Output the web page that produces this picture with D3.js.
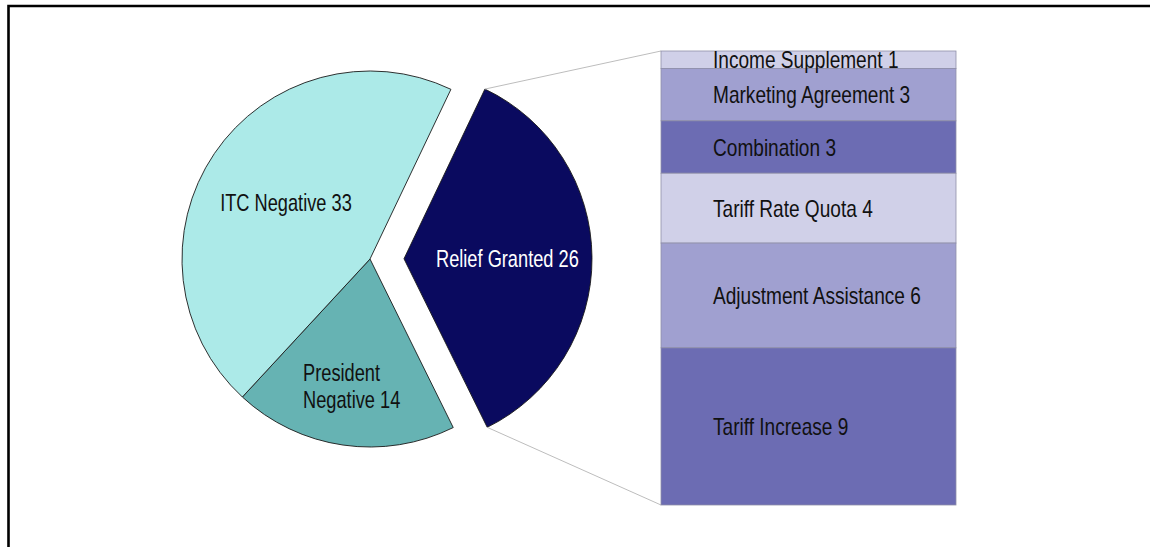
<!DOCTYPE html>
<html>
<head>
<meta charset="utf-8">
<script src="https://cdn.jsdelivr.net/npm/d3@7"></script>
<style>
  html, body { margin: 0; padding: 0; background: #fff; }
  svg { display: block; }
  text { font-family: "Liberation Sans", Arial, sans-serif; }
</style>
</head>
<body>
<svg id="chart" width="1150" height="547"></svg>
<script>
// ---- data ----
const pieCategories = ["Relief Granted", "President Negative", "ITC Negative"];
const pieValues = [26, 14, 33];
const pieLabelLines = [["Relief Granted 26"], ["President", "Negative 14"], ["ITC Negative 33"]];

const barCategories = ["Income Supplement", "Marketing Agreement", "Combination", "Tariff Rate Quota", "Adjustment Assistance", "Tariff Increase"];
const barValues = [1, 3, 3, 4, 6, 9];

// ---- styles ----
const pieColors = ["#0a0a5f", "#66b3b3", "#aceae8"];
const barColors = ["#d0d0e8", "#a0a0d0", "#6c6cb3", "#d0d0e8", "#a0a0d0", "#6c6cb3"];
const fontSize = 24;

const svg = d3.select("#chart");

// frame (top and left edges)
svg.append("path")
  .attr("d", "M8.5,560 L8.5,6 L1160,6")
  .attr("fill", "none").attr("stroke", "#000").attr("stroke-width", 2.6);

function condensedText(parent, x, y, anchor, color, lines, lh, sx) {
  const g = parent.append("g").attr("transform", `translate(${x},${y}) scale(${sx},1)`);
  const t = g.append("text").attr("font-size", fontSize).attr("fill", color).attr("text-anchor", anchor);
  lines.forEach((ln, j) => {
    t.append("tspan").attr("x", 0).attr("y", j * (lh || 0)).text(ln);
  });
  return t;
}

// ---- pie ----
const cx = 370, cy = 259, R = 188, explode = 34;
const deg = Math.PI / 180;
const pie = d3.pie().sort(null).value(d => d)
  .startAngle(25.5 * deg).endAngle(25.5 * deg + 2 * Math.PI);
const arcs = pie(pieValues);
const arc = d3.arc().innerRadius(0).outerRadius(R);

const labelR = [0.55, 0.68, 0.54];
const pieSx = 0.76;
const gPie = svg.append("g").attr("transform", `translate(${cx},${cy})`);

arcs.forEach((a, i) => {
  const mid = (a.startAngle + a.endAngle) / 2;
  const off = i === 0 ? explode : 0;
  const dx = off * Math.sin(mid), dy = -off * Math.cos(mid);
  const g = gPie.append("g").attr("transform", `translate(${dx},${dy})`);
  g.append("path").attr("d", arc(a))
    .attr("fill", pieColors[i]).attr("stroke", "#1a1a1a").attr("stroke-width", 0.9);
  const lr = R * labelR[i];
  const lx = lr * Math.sin(mid), ly = -lr * Math.cos(mid);
  const lines = pieLabelLines[i];
  const lh = 27;
  const color = i === 0 ? "#fff" : "#111";
  const yTop = ly + 8.5 - (lines.length - 1) / 2 * lh;
  if (lines.length > 1) {
    const t = condensedText(g, lx, yTop, "start", color, lines, lh, pieSx);
    const w = d3.max(t.selectAll("tspan").nodes(), n => n.getComputedTextLength()) * pieSx;
    t.node().parentNode.setAttribute("transform", `translate(${lx - w / 2},${yTop}) scale(${pieSx},1)`);
  } else {
    condensedText(g, lx, yTop, "middle", color, lines, lh, pieSx);
  }
});

// ---- bar ----
const barX0 = 661, barX1 = 956;
const barSx = 0.795;
const y = d3.scaleLinear().domain([0, d3.sum(barValues)]).range([51, 505]);
const stack = [];
let acc = 0;
barValues.forEach((v, i) => { stack.push({ i, y0: acc, y1: acc + v, v }); acc += v; });

// connector lines from exploded slice to the bar
const rel = arcs[0];
const relMid = (rel.startAngle + rel.endAngle) / 2;
const ox = cx + explode * Math.sin(relMid), oy = cy - explode * Math.cos(relMid);
const pTop = [ox + R * Math.sin(rel.startAngle), oy - R * Math.cos(rel.startAngle)];
const pBot = [ox + R * Math.sin(rel.endAngle), oy - R * Math.cos(rel.endAngle)];
svg.append("line").attr("x1", pTop[0]).attr("y1", pTop[1]).attr("x2", barX0).attr("y2", y(0))
  .attr("stroke", "#bdbdbd").attr("stroke-width", 1);
svg.append("line").attr("x1", pBot[0]).attr("y1", pBot[1]).attr("x2", barX0).attr("y2", y(acc))
  .attr("stroke", "#bdbdbd").attr("stroke-width", 1);

const gBar = svg.append("g");
gBar.selectAll("rect").data(stack).join("rect")
  .attr("x", barX0).attr("width", barX1 - barX0)
  .attr("y", d => y(d.y0)).attr("height", d => y(d.y1) - y(d.y0))
  .attr("fill", d => barColors[d.i])
  .attr("stroke", "#8f8fa8").attr("stroke-width", 0.8);

stack.forEach(d => {
  condensedText(gBar, 713, (y(d.y0) + y(d.y1)) / 2 + 8.5, "start", "#111",
    [`${barCategories[d.i]} ${d.v}`], 0, barSx);
});
</script>
</body>
</html>
